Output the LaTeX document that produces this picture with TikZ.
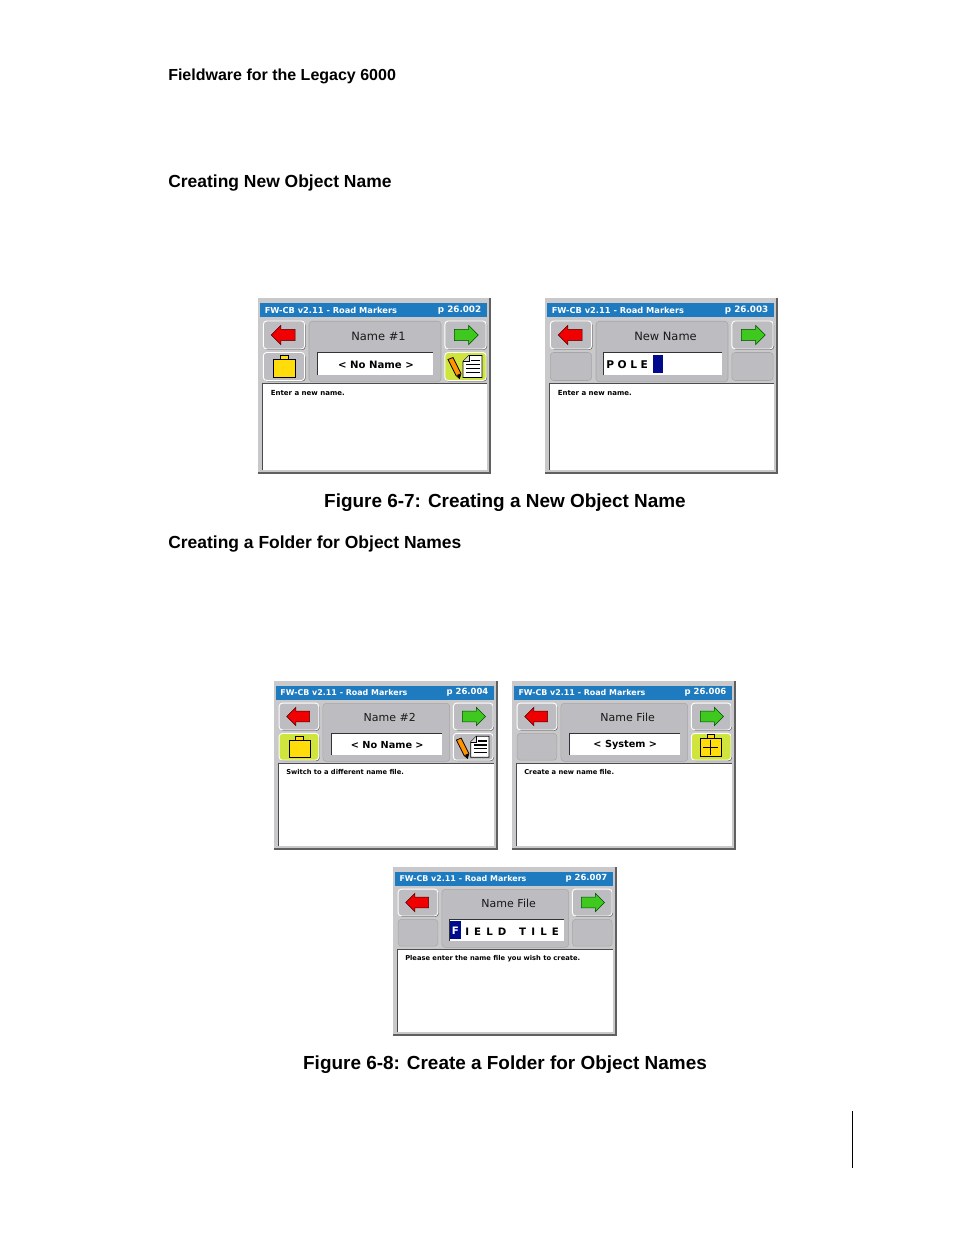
\documentclass[tikz,border=0pt]{standalone}
\usepackage{fontspec}
\setmainfont{Liberation Sans}
\newfontfamily\lcdfont{DejaVu Sans}
\usetikzlibrary{shapes.arrows,shadows}
\definecolor{framegray}{HTML}{C9C9CB}
\definecolor{btngray}{HTML}{BDBCC0}
\definecolor{titleblue}{HTML}{1E7BBF}
\definecolor{hilite}{HTML}{CFE43C}
\definecolor{folderyellow}{HTML}{FFDC0A}
\definecolor{arrowred}{HTML}{F00000}
\definecolor{arrowgreen}{HTML}{3FC81E}
\definecolor{cursorblue}{HTML}{000A8C}
\tikzset{
  pagetext/.style={anchor=base west,inner sep=0pt,font=\bfseries\fontsize{13.1}{15}\selectfont},
  captext/.style={anchor=base,inner sep=0pt,font=\bfseries\fontsize{14.2}{16}\selectfont},
  lcd/.style={inner sep=0pt,transform shape,text=black},
  btn/.style={draw=white,line width=.7pt,fill=btngray,rounded corners=2.5pt,minimum width=31pt,minimum height=21pt,inner sep=0pt,transform shape,
    general shadow={fill=gray!80!black,shadow xshift=.7pt,shadow yshift=-.7pt}},
  btnoff/.style={draw=gray!70,line width=.4pt,fill=btngray,rounded corners=2.5pt,minimum width=31pt,minimum height=21pt,inner sep=0pt,transform shape},
  btnhi/.style={btn,fill=hilite},
  backarrow/.style={single arrow,shape border rotate=180,fill=arrowred,draw=black!70!red,line width=.4pt,transform shape,
    minimum height=18pt,single arrow head extend=3pt,single arrow tip angle=90,inner xsep=0pt,inner ysep=4pt},
  nextarrow/.style={single arrow,fill=arrowgreen,draw=black!70!green,line width=.4pt,transform shape,
    minimum height=18pt,single arrow head extend=3pt,single arrow tip angle=90,inner xsep=0pt,inner ysep=4pt},
  fieldbox/.style={fill=white,inner sep=0pt,minimum height=16.5pt,transform shape},
  icon/.style={draw=black,line width=.5pt,fill=folderyellow},
}
% one screen: title, page, heading, help text
\newcommand\fwscreen[4]{
\fill[gray!75!black] (0,0) rectangle (233,176);
\fill[framegray] (0,0) rectangle (231,174);
\node[fill=titleblue,minimum width=170pt,minimum height=10.9pt,inner sep=0pt,transform shape] (bar) at (115.5,12) {};
\node[lcd,anchor=west,text=white,font=\lcdfont\bfseries\fontsize{6.2}{7}\selectfont] (bartitle) at (6.5,12) {#1};
\node[lcd,anchor=east,text=white,font=\lcdfont\bfseries\fontsize{6.6}{7}\selectfont] (barpage) at (223.5,12) {#2};
\node[fill=btngray,draw=gray!70,line width=.4pt,rounded corners=2.5pt,minimum width=99pt,minimum height=45.4pt,inner sep=0pt,transform shape] (panel) at (117,53.5) {};
\node[btn] (back) at (26,37) {};
\node[btn] (next) at (207.5,37) {};
\node[backarrow] (backicon) at (28,37) {};
\node[nextarrow] (nexticon) at (205.5,37) {};
\node[lcd,font=\lcdfont\fontsize{8.6}{11}\selectfont,text=black!90] (heading) at (120.5,38) {#3};
\node[fill=white,minimum width=168pt,minimum height=64.5pt,inner sep=0pt,transform shape] (body) at (116.7,129) {};
\draw[black!70,line width=1pt] (body.south west) -- (body.north west) -- (body.north east);
\node[lcd,anchor=north west,font=\lcdfont\bfseries\fontsize{5.25}{6}\selectfont] (help) at (12.5,92) {#4};
}
\newcommand\fwfield[2]{
\node[fieldbox,minimum width=#2] (field) at (#1,66) {};
\draw[black!80,line width=.5pt] (field.south west) -- (field.north west) -- (field.north east);
}
\newcommand\fwfolder[2]{
\draw[icon] (#1-4,#2-11) rectangle (#1+4,#2-7);
\draw[icon] (#1-11,#2-7) rectangle (#1+11,#2+11);
}
\newcommand\fwnote[2]{
\fill[white,draw=black,line width=.6pt] (#1-3,#2-11) -- (#1+10,#2-11) -- (#1+10,#2+11) -- (#1-9,#2+11) -- (#1-9,#2-5) -- cycle;
\draw[black,line width=.4pt,fill=gray!30] (#1-9,#2-5) -- (#1-3,#2-5) -- (#1-3,#2-11);
\foreach \yy in {-2,2,6} \draw[black,line width=1pt] (#1-6,#2+\yy) -- (#1+8,#2+\yy);
\draw[black,line width=1pt] (#1-1,#2-6) -- (#1+8,#2-6);
\draw[fill=orange!85!yellow,draw=black,line width=.6pt] (#1-24,#2-7) -- (#1-19,#2-9) -- (#1-11,#2+7) -- (#1-12.5,#2+12) -- (#1-16,#2+9) -- cycle;
\fill[black] (#1-15,#2+8.5) -- (#1-11.5,#2+7) -- (#1-12.5,#2+12) -- cycle;
}
\begin{document}
\begin{tikzpicture}[x=0.75pt,y=-0.75pt]
\useasboundingbox (0,0) rectangle (954,1235);
\fill[white] (0,0) rectangle (954,1235);
\node[pagetext,font=\bfseries\fontsize{12}{14}\selectfont] (running) at (168,80) {Fieldware for the Legacy 6000};
\node[pagetext] (secone) at (168,187) {Creating New Object Name};
\node[captext] (capone) at (505,507) {Figure 6-7: Creating a New Object Name};
\node[pagetext] (sectwo) at (168,548) {Creating a Folder for Object Names};
\node[captext] (captwo) at (505,1069) {Figure 6-8: Create a Folder for Object Names};
\coordinate (ruletop) at (852,1111);
\coordinate (rulebot) at (852,1168);
\draw[black,line width=.75pt] (ruletop) -- (rulebot);
% Figure 6-7
\begin{scope}[name prefix=a-,shift={(258,298)}]
\fwscreen{FW-CB v2.11 - Road Markers}{p 26.002}{Name \#1}{Enter a new name.}
\node[btn] (folderbtn) at (26,68.5) {};
\node[btnhi] (notebtn) at (207.5,68.5) {};
\fwfolder{26.5}{68.5}
\fwnote{214}{68.5}
\fwfield{117.5}{86.25pt}
\node[lcd,font=\lcdfont\bfseries\fontsize{7.6}{9}\selectfont] (fieldtext) at (118,67) {< No Name >};
\end{scope}
\begin{scope}[name prefix=b-,shift={(545,298)}]
\fwscreen{FW-CB v2.11 - Road Markers}{p 26.003}{New Name}{Enter a new name.}
\node[btnoff] (leftoff) at (26,68.5) {};
\node[btnoff] (rightoff) at (207.5,68.5) {};
\fwfield{118}{88.5pt}
\node[lcd,anchor=west,font=\lcdfont\bfseries\fontsize{8}{9}\selectfont] (fieldtext) at (61,67) {P\,\,O\,\,L\,\,E};
\node[fill=cursorblue,minimum width=7.5pt,minimum height=13.5pt,inner sep=0pt,transform shape] (cursor) at (112.5,66) {};
\end{scope}
% Figure 6-8
\begin{scope}[name prefix=c-,shift={(274,681)},scale=.96]
\fwscreen{FW-CB v2.11 - Road Markers}{p 26.004}{Name \#2}{Switch to a different name file.}
\node[btnhi] (folderbtn) at (26,68.5) {};
\node[btn] (notebtn) at (207.5,68.5) {};
\fwfolder{26.5}{68.5}
\fwnote{214}{68.5}
\fwfield{117.5}{86.25pt}
\node[lcd,font=\lcdfont\bfseries\fontsize{7.6}{9}\selectfont] (fieldtext) at (118,67) {< No Name >};
\end{scope}
\begin{scope}[name prefix=d-,shift={(512,681)},scale=.96]
\fwscreen{FW-CB v2.11 - Road Markers}{p 26.006}{Name File}{Create a new name file.}
\node[btnoff] (leftoff) at (26,68.5) {};
\node[btnhi] (plusbtn) at (207.5,68.5) {};
\fwfolder{207}{67}
\draw[black,line width=1.1pt] (199,69) -- (215,69) (207,61) -- (207,77);
\fwfield{117.5}{86.25pt}
\node[lcd,font=\lcdfont\bfseries\fontsize{7.6}{9}\selectfont] (fieldtext) at (118,67) {< System >};
\end{scope}
\begin{scope}[name prefix=e-,shift={(393,867)},scale=.96]
\fwscreen{FW-CB v2.11 - Road Markers}{p 26.007}{Name File}{Please enter the name file you wish to create.}
\node[btnoff] (leftoff) at (26,68.5) {};
\node[btnoff] (rightoff) at (207.5,68.5) {};
\fwfield{118.5}{89.25pt}
\node[fill=cursorblue,minimum width=8.25pt,minimum height=14.25pt,inner sep=0pt,transform shape] (cursor) at (65,66) {};
\node[lcd,text=white,font=\lcdfont\bfseries\fontsize{8}{9}\selectfont] (cursortext) at (cursor.center) {F};
\node[lcd,anchor=west,font=\lcdfont\bfseries\fontsize{8}{9}\selectfont] (fieldtext) at (75,67) {I\kern4pt E\kern4pt L\kern4pt D\kern10pt T\kern4pt I\kern4pt L\kern4pt E};
\end{scope}
\end{tikzpicture}
\end{document}
